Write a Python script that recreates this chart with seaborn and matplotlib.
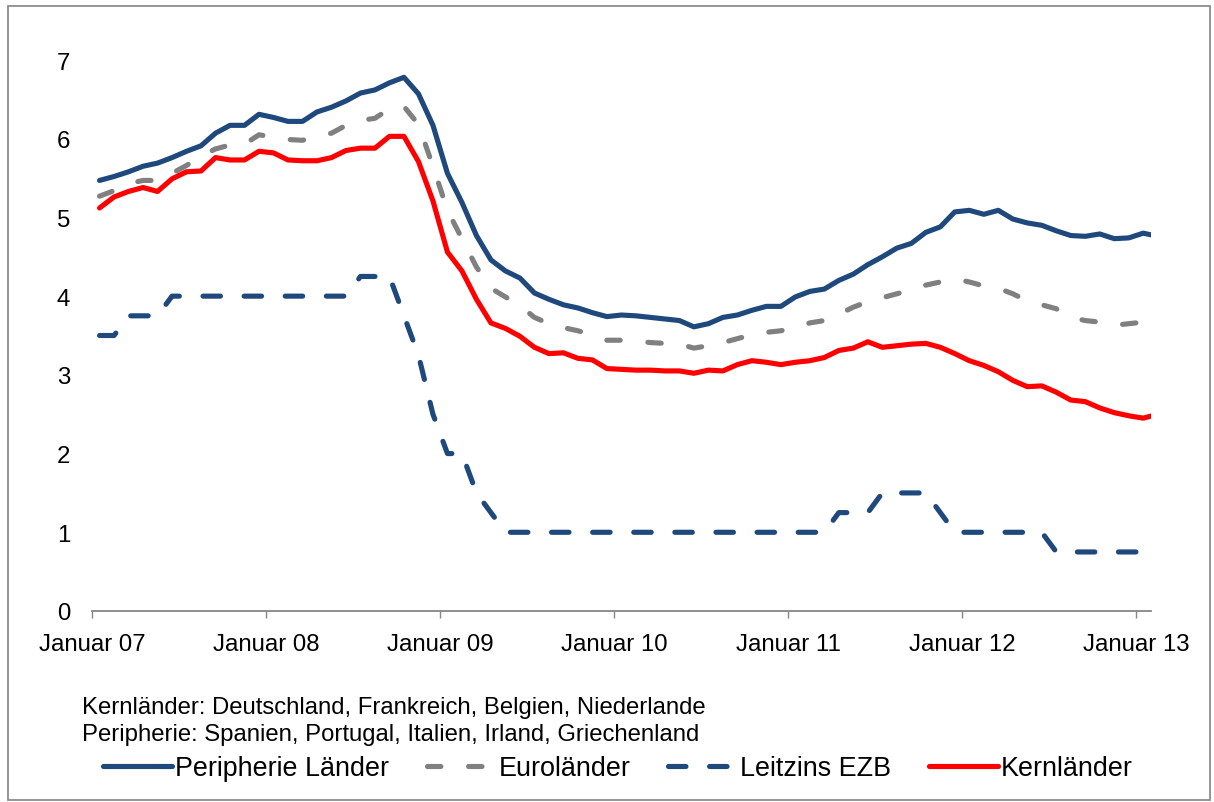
import numpy as np
import pandas as pd
import matplotlib
matplotlib.use("Agg")
import matplotlib.pyplot as plt
from matplotlib.lines import Line2D
from matplotlib.patches import Rectangle
import seaborn as sns

# ---------------- data (monthly, Jan 2007 - Feb 2013) ----------------
tick_labels = ["Januar 07", "Januar 08", "Januar 09", "Januar 10",
               "Januar 11", "Januar 12", "Januar 13"]

peripherie = [5.47, 5.52, 5.58, 5.65, 5.69, 5.76, 5.84, 5.91, 6.07, 6.17,
              6.17, 6.31, 6.27, 6.22, 6.22, 6.34, 6.40, 6.48, 6.58, 6.62,
              6.71, 6.78, 6.57, 6.17, 5.56, 5.19, 4.77, 4.46, 4.32, 4.23,
              4.04, 3.96, 3.89, 3.85, 3.79, 3.74, 3.76, 3.75, 3.73, 3.71,
              3.69, 3.61, 3.65, 3.73, 3.76, 3.82, 3.87, 3.87, 3.99, 4.06,
              4.09, 4.20, 4.28, 4.40, 4.50, 4.61, 4.67, 4.81, 4.88, 5.07,
              5.09, 5.04, 5.09, 4.98, 4.93, 4.90, 4.83, 4.77, 4.76, 4.79,
              4.73, 4.74, 4.80, 4.76]

eurolaender = [5.27, 5.34, 5.43, 5.47, 5.47, 5.56, 5.66, 5.78, 5.87, 5.92,
               5.93, 6.05, 6.02, 5.99, 5.98, 6.03, 6.07, 6.17, 6.23, 6.26,
               6.38, 6.41, 6.18, 5.65, 5.09, 4.73, 4.37, 4.10, 3.99, 3.88,
               3.73, 3.65, 3.60, 3.56, 3.51, 3.44, 3.44, 3.43, 3.41, 3.40,
               3.39, 3.34, 3.37, 3.41, 3.46, 3.51, 3.54, 3.56, 3.60, 3.66,
               3.69, 3.77, 3.86, 3.93, 3.98, 4.03, 4.08, 4.14, 4.18, 4.22,
               4.18, 4.13, 4.10, 4.03, 3.94, 3.89, 3.84, 3.73, 3.69, 3.67,
               3.63, 3.65, 3.67, 3.65]

leitzins = [3.50, 3.50, 3.75, 3.75, 3.75, 4.00, 4.00, 4.00, 4.00, 4.00,
            4.00, 4.00, 4.00, 4.00, 4.00, 4.00, 4.00, 4.00, 4.25, 4.25,
            4.25, 3.75, 3.25, 2.50, 2.00, 2.00, 1.50, 1.25, 1.00, 1.00,
            1.00, 1.00, 1.00, 1.00, 1.00, 1.00, 1.00, 1.00, 1.00, 1.00,
            1.00, 1.00, 1.00, 1.00, 1.00, 1.00, 1.00, 1.00, 1.00, 1.00,
            1.00, 1.25, 1.25, 1.25, 1.50, 1.50, 1.50, 1.50, 1.25, 1.00,
            1.00, 1.00, 1.00, 1.00, 1.00, 1.00, 0.75, 0.75, 0.75, 0.75,
            0.75, 0.75, 0.75, 0.75]

kernlaender = [5.12, 5.26, 5.33, 5.38, 5.33, 5.49, 5.58, 5.59, 5.76, 5.73,
               5.73, 5.84, 5.82, 5.73, 5.72, 5.72, 5.76, 5.85, 5.88, 5.88,
               6.03, 6.03, 5.71, 5.21, 4.56, 4.32, 3.96, 3.66, 3.59, 3.49,
               3.35, 3.27, 3.28, 3.21, 3.19, 3.08, 3.07, 3.06, 3.06, 3.05,
               3.05, 3.02, 3.06, 3.05, 3.13, 3.18, 3.16, 3.13, 3.16, 3.18,
               3.22, 3.31, 3.34, 3.42, 3.35, 3.37, 3.39, 3.40, 3.35, 3.27,
               3.18, 3.12, 3.04, 2.93, 2.85, 2.86, 2.78, 2.68, 2.66, 2.58,
               2.52, 2.48, 2.45, 2.50]

series_names = ["Peripherie Länder", "Euroländer", "Leitzins EZB", "Kernländer"]
series_values = [peripherie, eurolaender, leitzins, kernlaender]

notes = ["Kernländer: Deutschland, Frankreich, Belgien, Niederlande",
         "Peripherie: Spanien, Portugal, Italien, Irland, Griechenland"]

# ---------------- styles ----------------
colors = {"Peripherie Länder": "#1F497D", "Euroländer": "#808080",
          "Leitzins EZB": "#1F497D", "Kernländer": "#FF0000"}
dash_map = {"Peripherie Länder": "", "Euroländer": (2.6, 5.4),
            "Leitzins EZB": (3.4, 4.6), "Kernländer": ""}
LW = 3.7

rows = []
for name, vals in zip(series_names, series_values):
    for i, v in enumerate(vals):
        rows.append({"monat": i + 0.5, "wert": v, "reihe": name})
df = pd.DataFrame(rows)

sns.set_style("white")
plt.rcParams["font.family"] = ["Liberation Sans", "DejaVu Sans"]
plt.rcParams["text.color"] = "black"
plt.rcParams["xtick.labelcolor"] = "black"
plt.rcParams["ytick.labelcolor"] = "black"

W, H = 1214, 803
fig = plt.figure(figsize=(W / 100, H / 100), dpi=100)
x0, x1, y0, y1 = 92.3, 1150.5, 612, 61
ax = fig.add_axes([x0 / W, 1 - y0 / H, (x1 - x0) / W, (y0 - y1) / H])

sns.lineplot(data=df, x="monat", y="wert", hue="reihe", style="reihe",
             hue_order=series_names, style_order=series_names,
             palette=colors, dashes=dash_map, linewidth=LW,
             legend=False, ax=ax, sort=False)

for ln in ax.lines:
    ln.set_solid_capstyle("round")
    ln.set_solid_joinstyle("round")
    ln.set_dash_capstyle("round")
    ln.set_dash_joinstyle("round")

ax.set_xlim(0, 73)
ax.set_ylim(0, 7)
ax.set_xticks(np.arange(0, 73, 12))
ax.set_xticklabels(tick_labels)
ax.set_yticks(range(8))
ax.set_xlabel("")
ax.set_ylabel("")
for s in ["top", "right", "left"]:
    ax.spines[s].set_visible(False)
ax.spines["bottom"].set_color("#868686")
ax.spines["bottom"].set_linewidth(1.3)
ax.tick_params(axis="x", length=5, width=1.0, color="#868686",
               labelsize=17.3, pad=11, direction="out", bottom=True,
               labelcolor="black")
ax.tick_params(axis="y", length=0, labelsize=17.3, pad=16, labelcolor="black")
ax.grid(False)

# notes
fig.text(82 / W, 1 - 708 / H, notes[0], fontsize=17.2, va="center",
         ha="left", color="black")
fig.text(82 / W, 1 - 735 / H, notes[1], fontsize=17.2, va="center",
         ha="left", color="black")

# legend
handles = []
for name in series_names:
    d = dash_map[name]
    ls = "-" if d == "" else (0, d)
    handles.append(Line2D([0], [0], color=colors[name], lw=LW, linestyle=ls,
                          solid_capstyle="round", dash_capstyle="round"))
leg = fig.legend(handles, series_names, loc="center", ncol=4,
                 bbox_to_anchor=(618 / W, 1 - 769 / H), frameon=False,
                 fontsize=19.4, handlelength=2.55, handletextpad=0.12,
                 columnspacing=1.4, borderpad=0, borderaxespad=0)
for t in leg.get_texts():
    t.set_color("black")

# outer frame
fig.add_artist(Rectangle((8 / W, 1 - 801 / H), 1202 / W, 794 / H,
                         transform=fig.transFigure, fill=False,
                         edgecolor="#8C8C8C", linewidth=1.3))

fig.savefig("out.png", dpi=100)
